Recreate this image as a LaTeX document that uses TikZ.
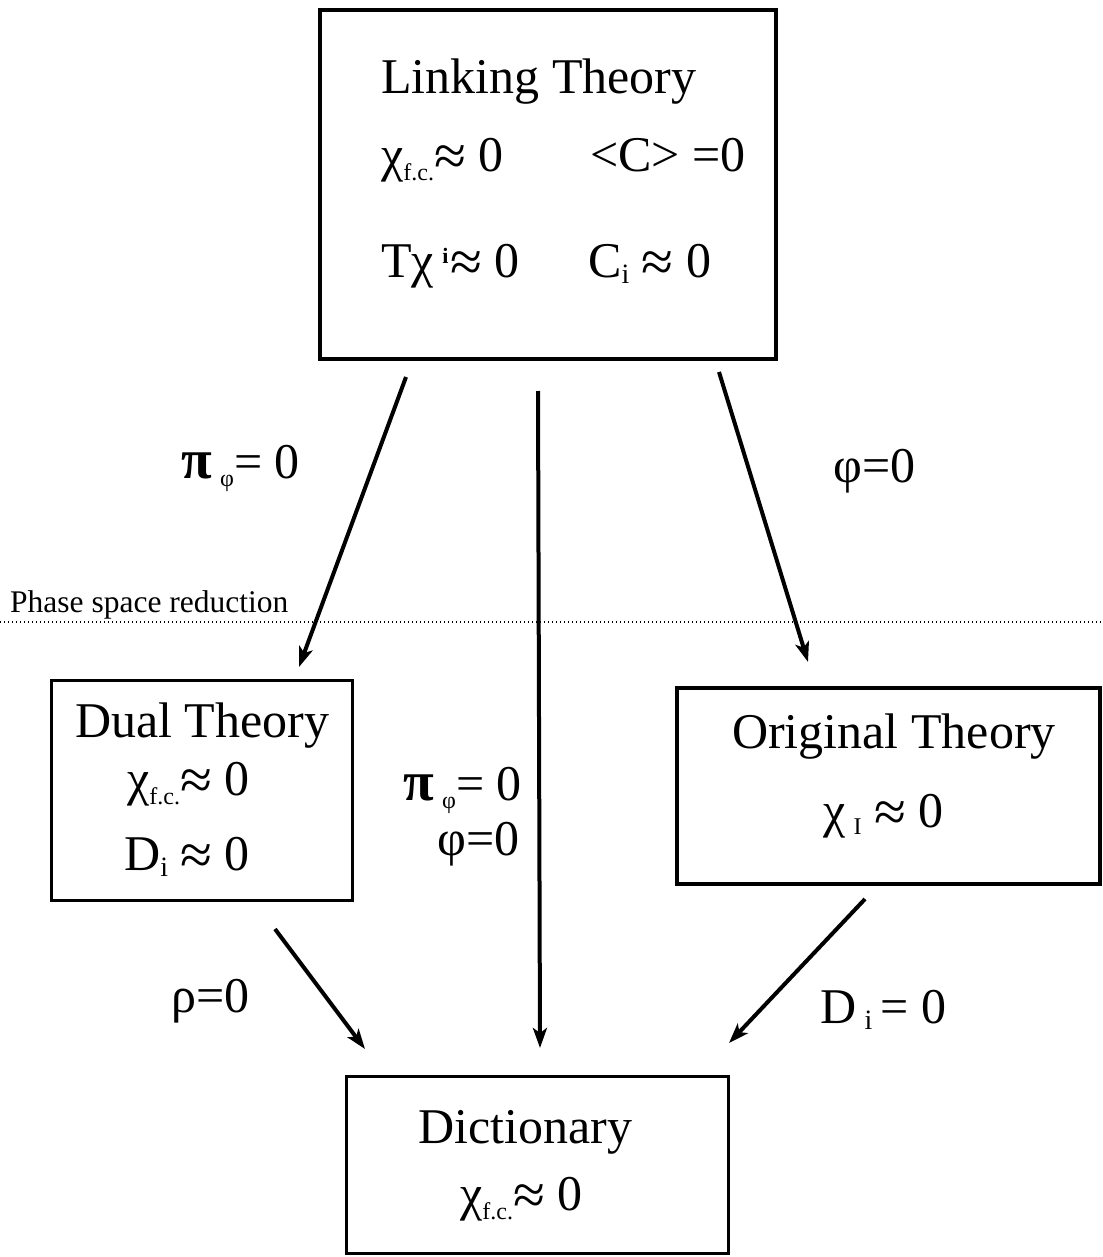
\documentclass[tikz,border=0pt]{standalone}
\usepackage{fontspec}
\setmainfont{Liberation Serif}
\usetikzlibrary{arrows.meta}
\newcommand\MainF{\fontsize{50}{56}\selectfont}
\newcommand\SmallF{\fontsize{24}{26}\selectfont}
\newcommand\IF{\fontsize{28}{30}\selectfont}
\newcommand\PhF{\fontsize{31.5}{34}\selectfont}
\newcommand\apx{\raisebox{-4pt}{\fontsize{58}{58}\selectfont ≈}}
\newcommand\fcsub{\raisebox{-9pt}{\SmallF f.c.}}
\newcommand\isub{\raisebox{-6pt}{\IF i}}
\newcommand\phisub{\raisebox{-8pt}{\fontsize{24}{26}\selectfont φ}}
\newcommand\pib{{\fontsize{56}{56}\selectfont\bfseries π}}
\begin{document}
\begin{tikzpicture}[x=1pt,y=-1pt,
  box/.style={draw=black,rectangle,inner sep=0pt},
  txt/.style={anchor=base west,inner sep=0pt,font=\MainF},
  conn/.style={line width=4pt,-{Stealth[length=20pt,width=14pt,inset=5pt]}},
  sepline/.style={line width=1.3pt,dash pattern=on 1.3pt off 2.7pt}]
\useasboundingbox (0,0) rectangle (1102,1257);
\fill[white] (0,0) rectangle (1102,1257);
% boxes
\node[box,line width=4pt,minimum width=456pt,minimum height=349pt] (lt) at (548,184.5) {};
\node[box,line width=3pt,minimum width=301pt,minimum height=220pt] (dt) at (202,790.5) {};
\node[box,line width=4pt,minimum width=423pt,minimum height=196pt] (ot) at (888.5,786) {};
\node[box,line width=3pt,minimum width=382pt,minimum height=177pt] (dc) at (537.5,1165) {};
% linking theory text
\node[txt] (lt1) at (381,94) {Linking Theory};
\node[txt] (lt2) at (381,172) {χ\fcsub\apx\ 0};
\node[txt] (lt3) at (590,172) {<C> =0};
\node[txt] (lt4) at (381,277) {Tχ\,\raisebox{14pt}{\fontsize{22}{24}\selectfont\bfseries i}\kern2pt\apx\ 0};
\node[txt] (lt5) at (588,277) {C\isub\ \apx\ 0};
% dual theory
\node[txt] (dt1) at (75,737) {Dual Theory};
\node[txt] (dt2) at (127,795) {χ\fcsub\apx\ 0};
\node[txt] (dt3) at (124,870) {D\isub\ \apx\ 0};
% original theory
\node[txt] (ot1) at (732,748) {Original Theory};
\node[txt] (ot2) at (823,827) {χ\,\raisebox{-7pt}{\SmallF I}\ \apx\ 0};
% dictionary
\node[txt] (dc1) at (418,1143) {Dictionary};
\node[txt] (dc2) at (460,1210) {χ\fcsub\apx\ 0};
% phase space line
\coordinate (sl) at (0,622);
\coordinate (sr) at (1102,622);
\draw[sepline] (sl) -- (sr);
\node[anchor=base west,inner sep=0pt,font=\PhF] (ph) at (10,612) {Phase space reduction};
% arrow endpoints
\coordinate (a1s) at (406,377);
\coordinate (a1e) at (299,667);
\coordinate (a2s) at (538,391);
\coordinate (a2e) at (540,1048);
\coordinate (a3s) at (719,372);
\coordinate (a3e) at (808,662);
\coordinate (a4s) at (275,929);
\coordinate (a4e) at (365,1049);
\coordinate (a5s) at (865,899);
\coordinate (a5e) at (729,1043);
\draw[conn] (a1s) -- (a1e);
\draw[conn] (a2s) -- (a2e);
\draw[conn] (a3s) -- (a3e);
\draw[conn] (a4s) -- (a4e);
\draw[conn] (a5s) -- (a5e);
% labels
\node[txt] (l1) at (181,478) {\pib\,\phisub= 0};
\node[txt] (l2) at (833,482) {φ=0};
\node[txt] (l3) at (403,800) {\pib\,\phisub= 0};
\node[anchor=base east,inner sep=0pt,font=\MainF] (l4) at (520,855) {φ=0};
\node[txt] (l5) at (171,1012) {ρ=0};
\node[txt] (l6) at (820,1023) {D\,\isub\,= 0};
\end{tikzpicture}
\end{document}
